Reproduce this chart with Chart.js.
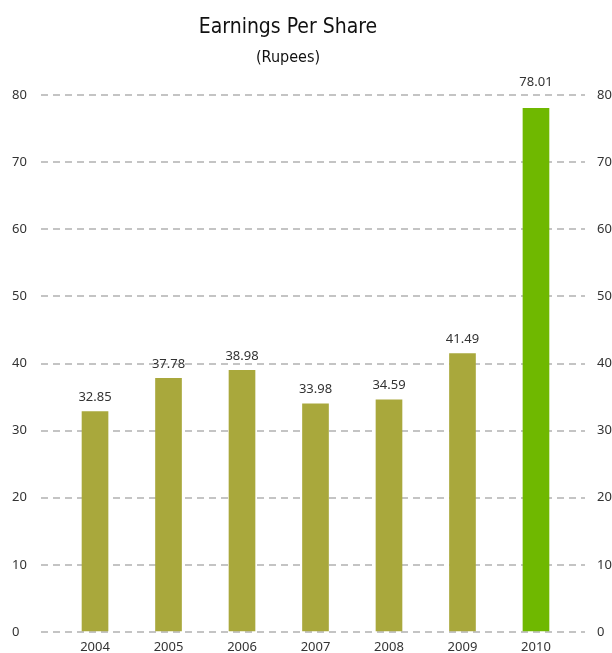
<!DOCTYPE html>
<html>
<head>
<meta charset="utf-8">
<script src="https://cdn.jsdelivr.net/npm/chart.js@4"></script>
<style>
  html, body { margin: 0; padding: 0; background: #fff; overflow: hidden; }
  #wrap { position: relative; width: 612px; height: 653px; }
  #chart { position: absolute; left: 0; top: 0; }
  .ttl { position: absolute; left: 0; width: 576px; text-align: center; color: #111;
         font-family: "Liberation Sans Narrow", "DejaVu Sans Condensed", sans-serif; }
  #t1 { top: 14px; font-size: 21px; }
  #t2 { top: 47px; font-size: 16px; }
</style>
</head>
<body>
<div id="wrap">
  <canvas id="chart" width="612" height="653"></canvas>
  <div class="ttl" id="t1">Earnings Per Share</div>
  <div class="ttl" id="t2">(Rupees)</div>
</div>
<script>
const years = ['2004', '2005', '2006', '2007', '2008', '2009', '2010'];
const eps = [32.85, 37.78, 38.98, 33.98, 34.59, 41.49, 78.01];
const yTicks = [0, 10, 20, 30, 40, 50, 60, 70, 80];

const olive = '#a9a83c';
const green = '#6fb800';
const tickFont = { family: '"Noto Sans", sans-serif', size: 13 };

// value above each bar; lifted above the top gridline if it would sit on it
const valueLabels = {
    id: 'valueLabels',
    afterDatasetsDraw(chart) {
        const ctx = chart.ctx;
        const top = chart.chartArea.top;
        const meta = chart.getDatasetMeta(0);
        ctx.save();
        ctx.font = '13px "Noto Sans", sans-serif';
        ctx.fillStyle = '#333';
        ctx.textAlign = 'center';
        ctx.textBaseline = 'bottom';
        meta.data.forEach((bar, i) => {
            let y = bar.y - 8;
            if (y > top - 6 && y - 14 < top + 2) y = top - 6;
            ctx.fillText(eps[i].toFixed(2), bar.x, y);
        });
        ctx.restore();
    }
};

new Chart(document.getElementById('chart'), {
    type: 'bar',
    data: {
        datasets: [{
            data: years.map((y, i) => ({ x: i, y: eps[i] })),
            backgroundColor: eps.map((v, i) => i === eps.length - 1 ? green : olive),
            barThickness: 26
        }]
    },
    options: {
        responsive: false, animation: false,
        layout: { padding: { left: 12, top: 95, right: 0, bottom: 0 } },
        plugins: { legend: { display: false }, tooltip: { enabled: false } },
        scales: {
            x: {
                type: 'linear', min: -0.735, max: 6.667, bounds: 'data', offset: false,
                afterBuildTicks: s => { s.ticks = years.map((y, i) => ({ value: i })); },
                afterFit: s => { s.height = 21; },
                ticks: { callback: v => years[v], color: '#333', font: tickFont, padding: 7, maxRotation: 0 },
                grid: { display: false, drawTicks: false, offset: false }, border: { display: false }
            },
            y: {
                position: 'left', min: 0, max: 80,
                afterBuildTicks: s => { s.ticks = yTicks.map(v => ({ value: v })); },
                afterFit: s => { s.width = 29; },
                ticks: { color: '#333', font: tickFont, crossAlign: 'far', padding: 10 },
                grid: { color: '#c4c4c4', lineWidth: 2, drawTicks: false },
                border: { display: false, dash: [7, 5] }
            },
            y2: {
                position: 'right', min: 0, max: 80,
                afterBuildTicks: s => { s.ticks = yTicks.map(v => ({ value: v })); },
                afterFit: s => { s.width = 27; },
                ticks: { color: '#333', font: tickFont, padding: 12 },
                grid: { display: false, drawTicks: false },
                border: { display: false }
            }
        }
    },
    plugins: [valueLabels]
});
</script>
</body>
</html>
